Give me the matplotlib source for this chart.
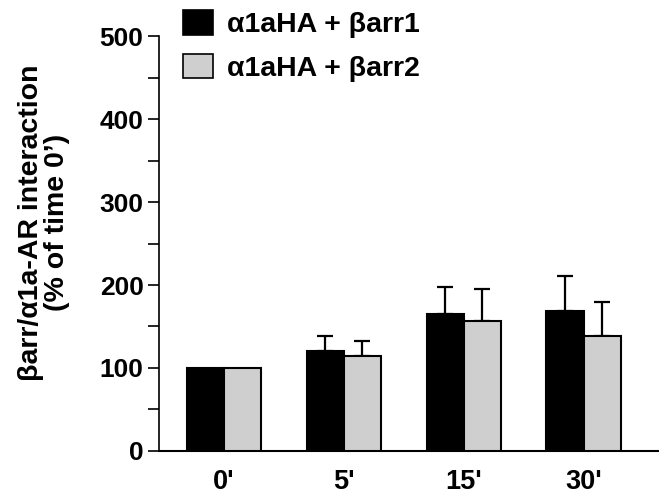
import numpy as np
import matplotlib
matplotlib.use('Agg')
import matplotlib.pyplot as plt
from matplotlib.patches import Patch

plt.rcParams['font.family'] = ['Liberation Sans', 'DejaVu Sans']

times = ["0'", "5'", "15'", "30'"]
arr1_mean = [100, 120, 165, 169]
arr1_err = [0, 18, 32, 42]
arr2_mean = [100, 114, 156, 138]
arr2_err = [0, 18, 39, 42]
labels = ['\u03b11aHA + \u03b2arr1', '\u03b11aHA + \u03b2arr2']

x = np.arange(len(times))
w = 0.31

fig = plt.figure(figsize=(6.59, 4.96), dpi=100)
ax = fig.add_axes([0.241, 0.091, 0.759, 0.836])

ax.bar(x - w/2, arr1_mean, width=w, color='black', edgecolor='black', lw=1.5, zorder=3)
ax.bar(x + w/2, arr2_mean, width=w, color='#cfcfcf', edgecolor='black', lw=1.5, zorder=3)
# upward error bars only
for off, m, e in [(-w/2, arr1_mean, arr1_err), (w/2, arr2_mean, arr2_err)]:
    xs = [xi + off for xi, ei in zip(x, e) if ei > 0]
    ms = [mi for mi, ei in zip(m, e) if ei > 0]
    es = [ei for ei in e if ei > 0]
    ax.errorbar(xs, ms, yerr=[np.zeros(len(es)), es], fmt='none', ecolor='black',
                elinewidth=1.6, capsize=6, capthick=1.6, zorder=2)

ax.set_xlim(-0.544, 3.63)
ax.set_ylim(0, 500)
ax.set_yticks(np.arange(0, 501, 100))
ax.set_yticks(np.arange(50, 500, 100), minor=True)
ax.set_xticks(x)
ax.set_xticklabels(times)
ax.tick_params(axis='x', length=0, pad=13, labelsize=19.5)
ax.tick_params(axis='y', which='both', length=8, width=1.2, labelsize=19, pad=3)
for t in ax.get_xticklabels() + ax.get_yticklabels():
    t.set_fontweight('bold')
ax.spines['top'].set_visible(False)
ax.spines['right'].set_visible(False)
ax.spines['left'].set_linewidth(1.2)
ax.spines['bottom'].set_linewidth(1.5)

ax.set_ylabel('\u03b2arr/\u03b11a-AR interaction\n(% of time 0\u2019)', fontsize=20.5,
              fontweight='bold', linespacing=1.0)
ax.yaxis.set_label_coords(-0.178, 0.55)

handles = [Patch(facecolor='black', edgecolor='black', lw=1.2),
           Patch(facecolor='#cfcfcf', edgecolor='black', lw=1.2)]
fig.legend(handles, labels, loc='upper left', bbox_to_anchor=(0.263, 1.0), frameon=False,
           prop={'weight': 'bold', 'size': 20.5}, handlelength=1.05, handleheight=0.95,
           handletextpad=0.5, labelspacing=0.55, borderaxespad=0, borderpad=0.35)

fig.savefig('out.png', dpi=100)
